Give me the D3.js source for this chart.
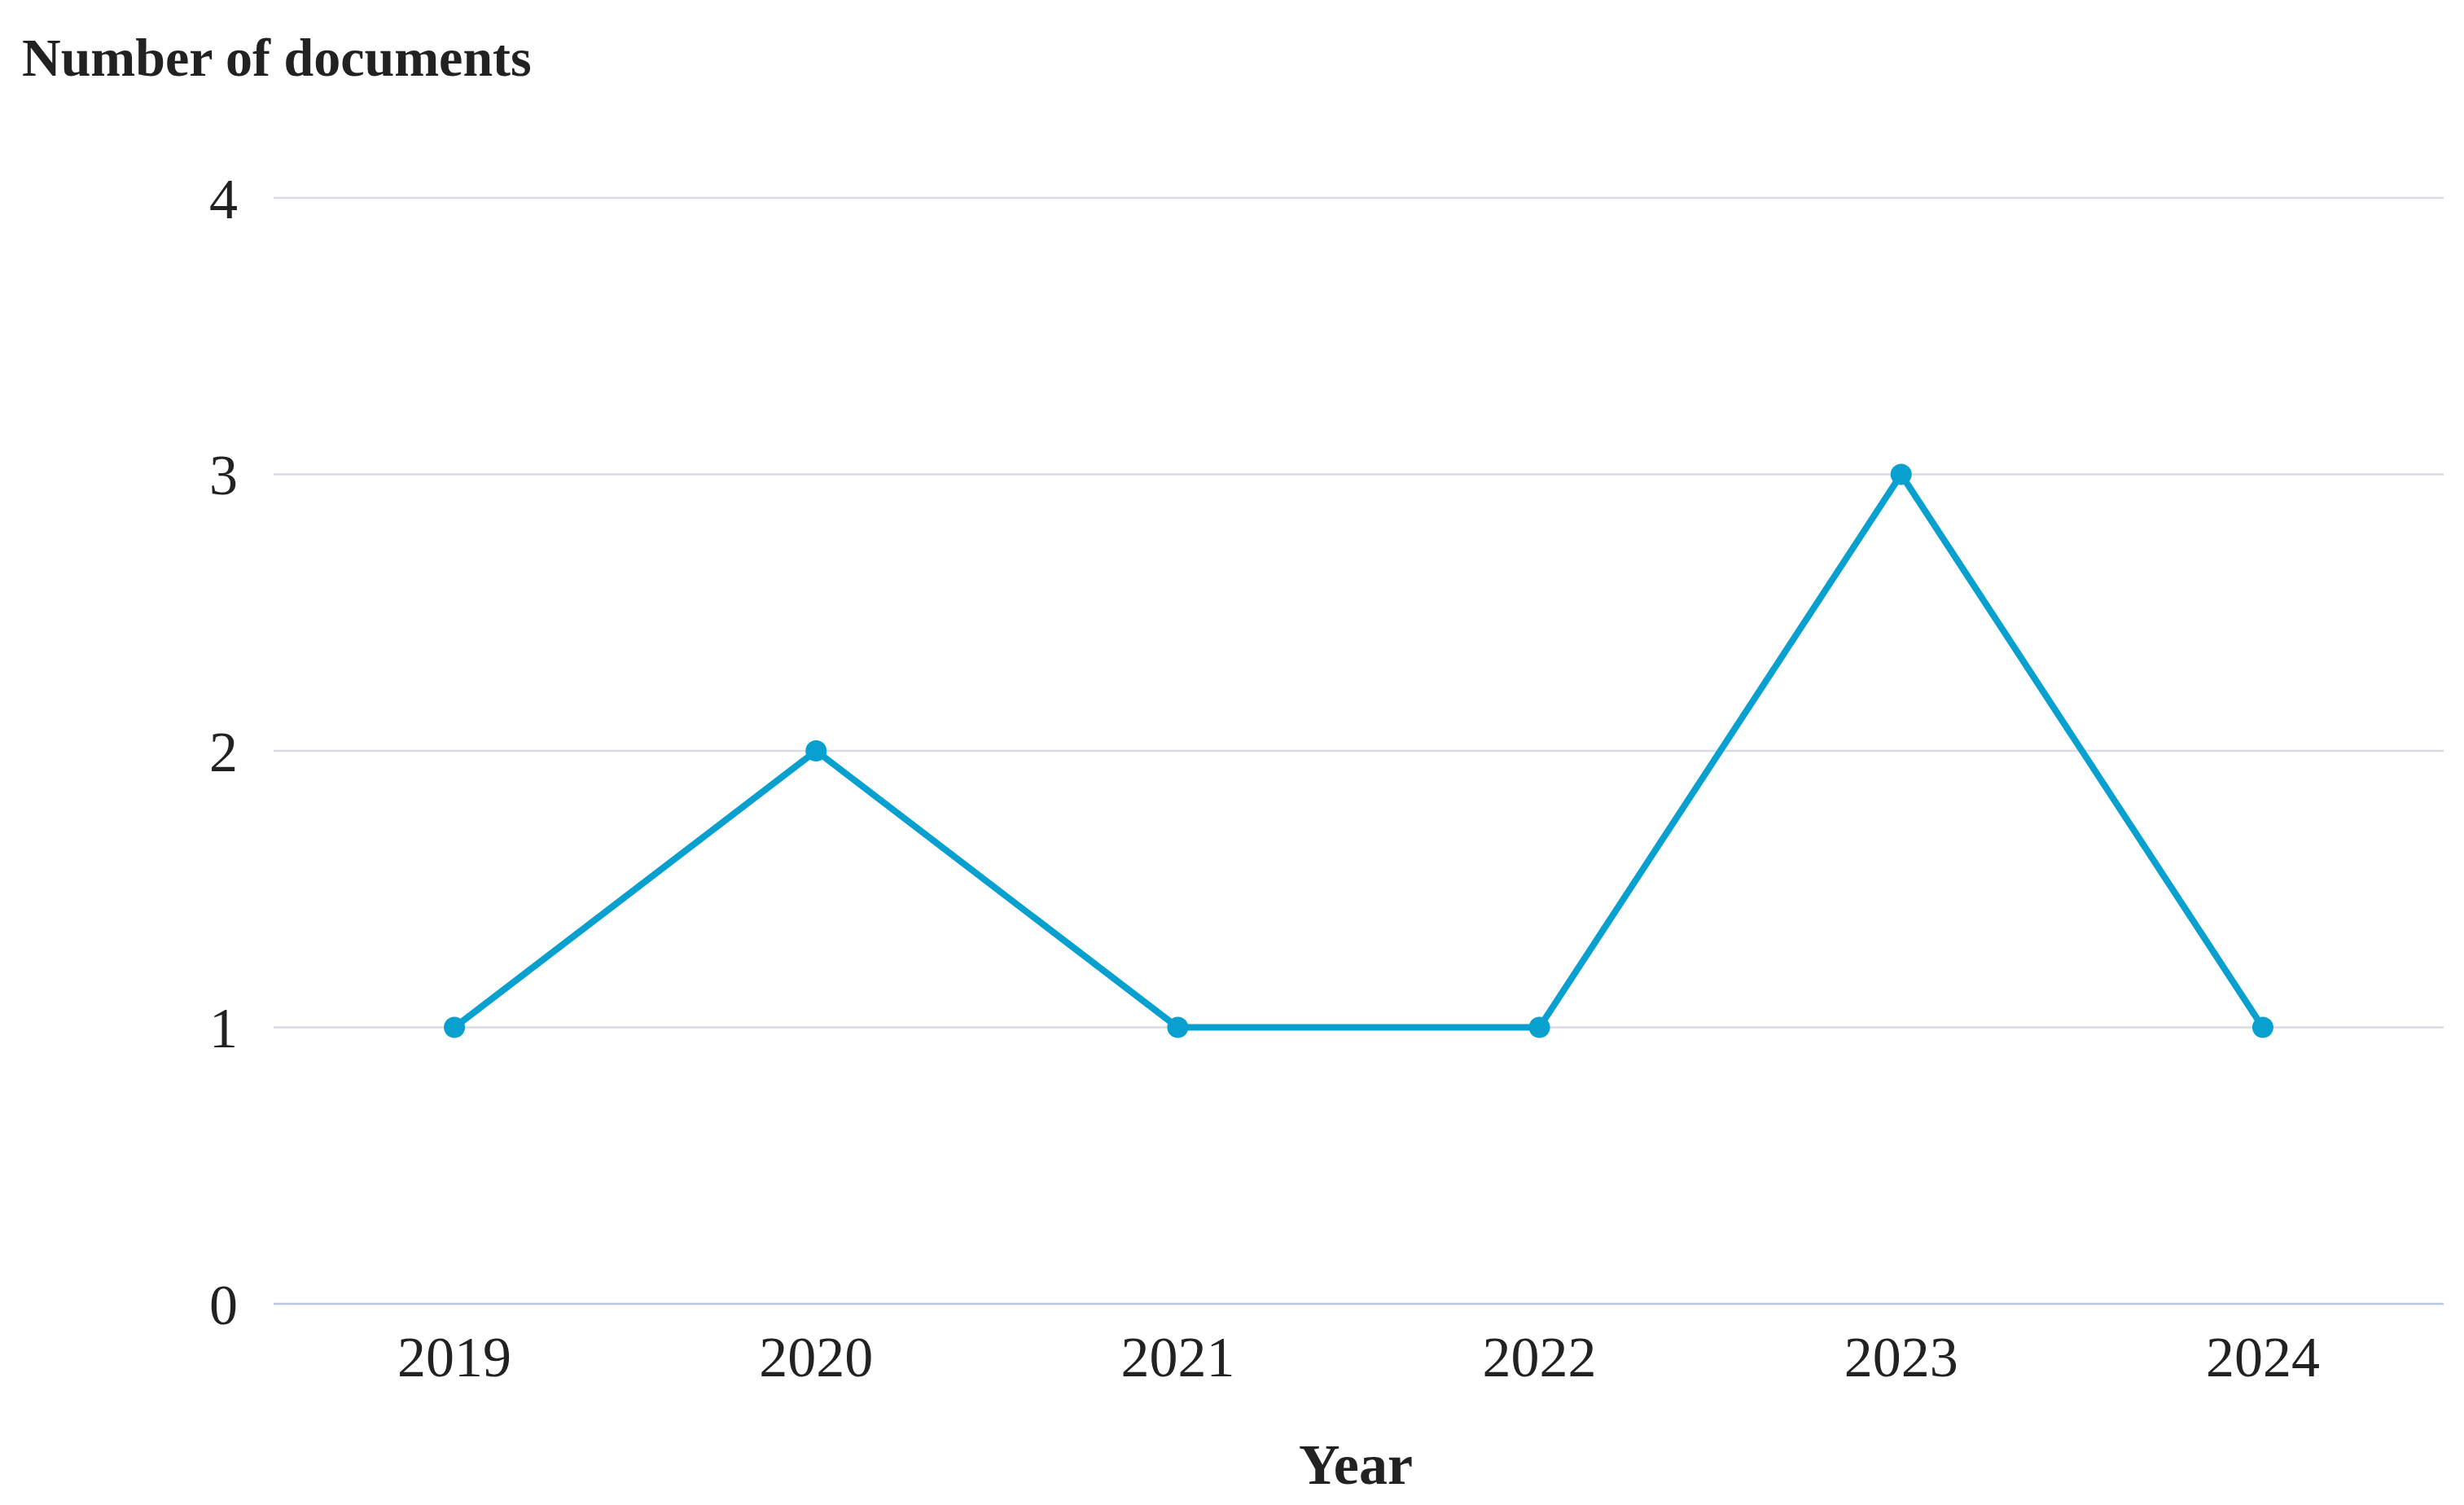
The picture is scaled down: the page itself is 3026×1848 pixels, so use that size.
<!DOCTYPE html>
<html>
<head>
<meta charset="utf-8">
<script src="https://cdn.jsdelivr.net/npm/d3@7"></script>
<style>
  body { margin: 0; background: #fff; }
  text { font-family: "Liberation Serif", "DejaVu Serif", serif; fill: #222; }
</style>
</head>
<body>
<svg id="chart" width="3026" height="1848"></svg>
<script>
const years = ["2019", "2020", "2021", "2022", "2023", "2024"];
const documents = [1, 2, 1, 1, 3, 1];
const yTicks = [0, 1, 2, 3, 4];

const svg = d3.select("#chart");
const plotLeft = 336, plotRight = 3001, plotTop = 243, plotBottom = 1601;

const x = d3.scalePoint().domain(years).range([plotLeft, plotRight]).padding(0.5);
const y = d3.scaleLinear().domain([0, 4]).range([plotBottom, plotTop]);

// grid
svg.append("g")
  .selectAll("line")
  .data(yTicks)
  .join("line")
  .attr("x1", plotLeft).attr("x2", plotRight)
  .attr("y1", d => y(d)).attr("y2", d => y(d))
  .attr("stroke", d => d === 0 ? "#b9c6de" : "#d9dbe2")
  .attr("stroke-width", 2.5);

// y axis labels
svg.append("g")
  .selectAll("text")
  .data(yTicks)
  .join("text")
  .attr("x", 292).attr("y", d => y(d))
  .attr("dy", "0.35em")
  .attr("text-anchor", "end")
  .attr("font-size", 70)
  .text(d => d);

// x axis labels
svg.append("g")
  .selectAll("text")
  .data(years)
  .join("text")
  .attr("x", d => x(d)).attr("y", 1690)
  .attr("text-anchor", "middle")
  .attr("font-size", 70)
  .text(d => d);

const line = d3.line().x((d, i) => x(years[i])).y(d => y(d));
svg.append("path")
  .datum(documents)
  .attr("d", line)
  .attr("fill", "none")
  .attr("stroke", "#08a0cf")
  .attr("stroke-width", 8)
  .attr("stroke-linejoin", "round");

svg.append("g")
  .selectAll("circle")
  .data(documents)
  .join("circle")
  .attr("cx", (d, i) => x(years[i]))
  .attr("cy", d => y(d))
  .attr("r", 13)
  .attr("fill", "#08a0cf");

svg.append("text")
  .attr("x", 27).attr("y", 93)
  .attr("font-size", 66).attr("font-weight", "bold")
  .text("Number of documents");

svg.append("text")
  .attr("x", 1665).attr("y", 1822)
  .attr("text-anchor", "middle")
  .attr("font-size", 70).attr("font-weight", "bold")
  .text("Year");
</script>
</body>
</html>
